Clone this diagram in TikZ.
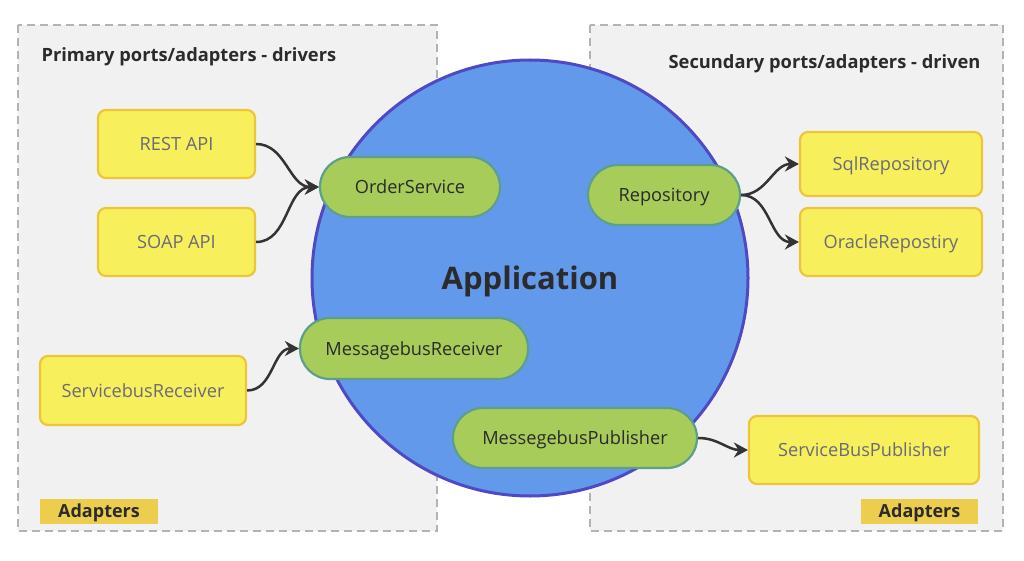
\documentclass[tikz,border=0pt]{standalone}
\usepackage{fontspec}
\setmainfont{Open Sans}
\usetikzlibrary{arrows.meta}
\definecolor{panelfill}{HTML}{F1F1F1}
\definecolor{paneldraw}{HTML}{B3B3B3}
\definecolor{yfill}{HTML}{F8EF5C}
\definecolor{ydraw}{HTML}{ECC53A}
\definecolor{gfill}{HTML}{A7CC5A}
\definecolor{gdraw}{HTML}{5E9F8C}
\definecolor{cfill}{HTML}{6399EB}
\definecolor{cdraw}{HTML}{5049C4}
\definecolor{tagfill}{HTML}{ECCD4E}
\definecolor{ytext}{HTML}{6B6B78}
\definecolor{dtext}{HTML}{2B2B2B}
\definecolor{arr}{HTML}{333333}
\tikzset{
  panel/.style={draw=paneldraw, fill=panelfill, line width=2pt, dash pattern=on 8pt off 5pt},
  adapter/.style={draw=ydraw, fill=yfill, line width=2.2pt, rounded corners=8pt, text=ytext, text depth=0pt, font=\fontsize{18.2}{20}\selectfont},
  port/.style={draw=gdraw, fill=gfill, line width=2.2pt, rounded corners=30pt, text=dtext, text depth=0pt, font=\fontsize{18.2}{20}\selectfont},
  tag/.style={fill=tagfill, text=dtext, text depth=0pt, font=\bfseries\fontsize{18}{20}\selectfont},
  conn/.style={draw=arr, line width=2.5pt, -{Stealth[length=14pt,width=15pt]}},
}
\begin{document}
\begin{tikzpicture}[x=1pt,y=-1pt]
\useasboundingbox (0,0) rectangle (1024,561);
% panels
\path[panel] (18,25) rectangle (437,531);
\path[panel] (590,25) rectangle (1003,531);
\node[anchor=west, font=\bfseries\fontsize{18.3}{20}\selectfont, text=dtext] (ptitle) at (38,57) {Primary ports/adapters - drivers};
\node[anchor=east, font=\bfseries\fontsize{18.3}{20}\selectfont, text=dtext] (stitle) at (984,64) {Secundary ports/adapters - driven};
\node[tag, minimum width=118pt, minimum height=25pt] (tagl) at (99,511) {Adapters};
\node[tag, minimum width=117pt, minimum height=25pt] (tagr) at (919.5,511) {Adapters};
% application circle
\node[circle, draw=cdraw, fill=cfill, line width=3pt, minimum size=436pt] (app) at (530,278) {};
\node[font=\bfseries\fontsize{31}{34}\selectfont, text=dtext] (apptext) at (530,281) {Application};
% adapters
\node[adapter, minimum width=157pt, minimum height=68pt] (rest) at (176.5,144) {REST API};
\node[adapter, minimum width=157pt, minimum height=68pt] (soap) at (176.5,242) {SOAP API};
\node[adapter, minimum width=206pt, minimum height=69pt] (sbr) at (143,390.5) {ServicebusReceiver};
\node[adapter, minimum width=182pt, minimum height=64pt] (sql) at (891,164) {SqlRepository};
\node[adapter, minimum width=182pt, minimum height=68pt] (ora) at (891,242) {OracleRepostiry};
\node[adapter, minimum width=230pt, minimum height=68pt] (sbp) at (864,450) {ServiceBusPublisher};
% ports
\node[port, minimum width=180pt, minimum height=60pt] (order) at (410,187) {OrderService};
\node[port, minimum width=152pt, minimum height=60pt] (repo) at (664,195) {Repository};
\node[port, minimum width=228pt, minimum height=61pt] (mbr) at (414,348.5) {MessagebusReceiver};
\node[port, minimum width=244pt, minimum height=60pt] (mbp) at (575,438) {MessegebusPublisher};
% connectors
\draw[conn] (rest.east) to[out=0,in=180] (order.west);
\draw[conn] (soap.east) to[out=0,in=180] (order.west);
\draw[conn] (sbr.east) to[out=0,in=180] (mbr.west);
\draw[conn] (repo.east) to[out=0,in=180] (sql.west);
\draw[conn] (repo.east) to[out=0,in=180] (ora.west);
\draw[conn] (mbp.east) to[out=0,in=180] (sbp.west);
\end{tikzpicture}
\end{document}
